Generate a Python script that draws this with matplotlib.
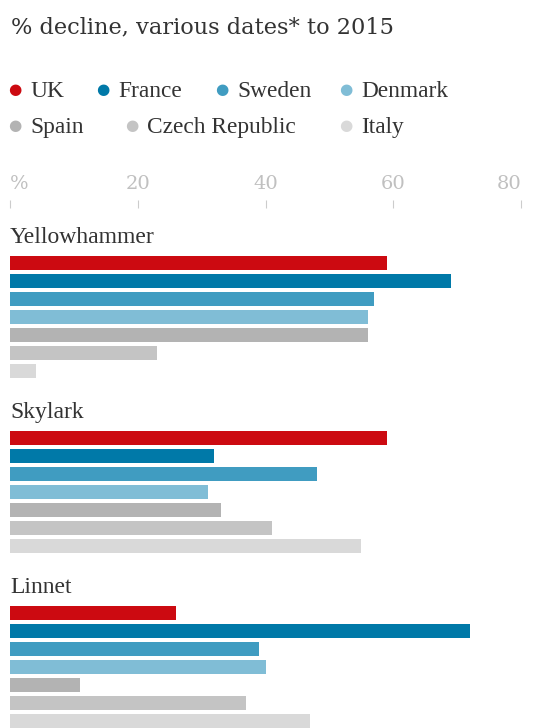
import matplotlib
matplotlib.use("Agg")
import matplotlib.pyplot as plt

# --- data ---
birds = ["Yellowhammer", "Skylark", "Linnet"]
countries = ["UK", "France", "Sweden", "Denmark", "Spain", "Czech Republic", "Italy"]
colors = ["#cc0a11", "#0079a8", "#409cc1", "#80bdd6", "#b3b3b3", "#c4c4c4", "#d9d9d9"]

yellowhammer = [59, 69, 57, 56, 56, 23, 4]
skylark = [59, 32, 48, 31, 33, 41, 55]
linnet = [26, 72, 39, 40, 11, 37, 47]
values = [yellowhammer, skylark, linnet]

ticks = [0, 20, 40, 60, 80]
tick_labels = ["%", "20", "40", "60", "80"]

W, H = 543, 728
fig = plt.figure(figsize=(W / 100, H / 100), dpi=100)

serif = "Liberation Serif"
text_col = "#333333"

# title
fig.text(11 / W, 1 - 33 / H, "% decline, various dates* to 2015",
         family="DejaVu Serif", fontsize=16.2, color=text_col, va="baseline")

# legend (two rows)
legend_pos = [(15, 89), (103, 89), (222, 89), (346, 89),
              (15, 125), (132, 125), (346, 125)]
for (x, y), name, c in zip(legend_pos, countries, colors):
    fig.text(x / W, 1 - y / H, "\u25cf", family="DejaVu Sans", fontsize=11,
             color=c, ha="center", va="center")
    fig.text((x + 15) / W, 1 - (y + 8) / H, name, family=serif, fontsize=16.8,
             color=text_col, va="baseline")

# bars
ax = fig.add_axes([10 / W, 0, (W - 10) / W, 528 / H])
ax.set_xlim(0, (W - 10) / 6.39)
ax.set_ylim(528, 0)

group_gap = 175
slot = 18
first = 63
for g, (bird, vals) in enumerate(zip(birds, values)):
    y0 = first + g * group_gap
    ys = [y0 + i * slot for i in range(len(vals))]
    ax.barh(ys, vals, height=14.5, color=colors, linewidth=0)
    ax.text(0, y0 - 20, bird, family=serif, fontsize=17, color=text_col,
            va="baseline", ha="left")

for s in ax.spines.values():
    s.set_visible(False)
ax.set_yticks([])
ax.xaxis.tick_top()
ax.set_xticks(ticks)
ax.set_xticklabels(tick_labels, family="DejaVu Serif", fontsize=14, color="#c0c0c0")
ax.tick_params(axis="x", direction="in", length=6, width=0.8, color="#cccccc", pad=5)
labels = ax.get_xticklabels()
labels[0].set_ha("left")
labels[-1].set_ha("right")

fig.savefig("out.png", dpi=100)
